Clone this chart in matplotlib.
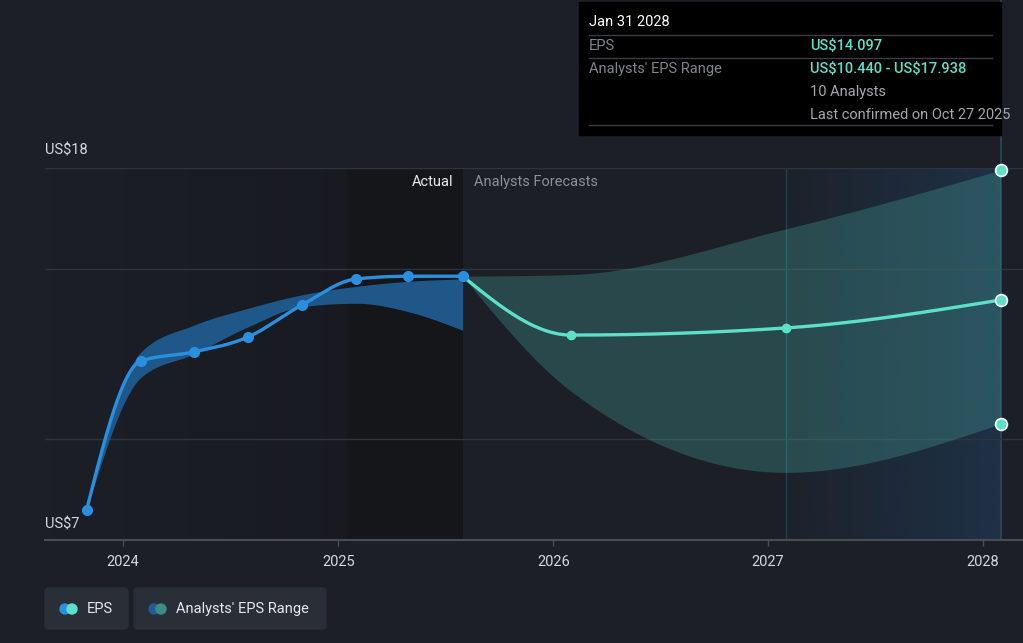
import numpy as np
import matplotlib
matplotlib.use("Agg")
import matplotlib.pyplot as plt
import matplotlib.dates as mdates
from matplotlib.patches import Rectangle, FancyBboxPatch, Circle
from matplotlib.transforms import Affine2D

plt.rcParams['font.family'] = ['Roboto', 'DejaVu Sans']

# EPS history (fiscal quarters) and analyst range
actual_dates = ['2023-10-31', '2024-01-31', '2024-04-30', '2024-07-31',
                '2024-10-31', '2025-01-31', '2025-04-30', '2025-07-31']
actual_eps = [7.88, 12.29, 12.56, 13.00, 13.95, 14.72, 14.80, 14.80]
actual_low = [7.88, 11.80, 12.50, 13.30, 13.90, 14.00, 13.75, 13.20]
actual_high = [7.88, 12.55, 13.35, 13.85, 14.25, 14.50, 14.65, 14.72]

# analyst forecasts (fiscal years ending Jan 31)
fc_dates = ['2025-07-31', '2026-01-31', '2027-01-31', '2028-01-31']
fc_eps = [14.80, 13.06, 13.27, 14.097]
fc_low = [14.80, 11.40, 9.00, 10.440]
fc_high = [14.80, 14.85, 16.20, 17.938]

year_ticks = ['2024', '2025', '2026', '2027', '2028']
y_min, y_max = 7, 18
grid_vals = [10, 15, 18]

BG = '#1c1f26'
BLUE = '#2b8fe0'
TEAL = '#5ce0c8'
W, H = 1023, 643


def monotone_curve(x, y, n=80):
    # monotone cubic (like d3 curveMonotoneX), only used to draw smooth lines
    x = np.asarray(x, float)
    y = np.asarray(y, float)
    h = np.diff(x)
    s = np.diff(y) / h
    t = np.zeros_like(y)
    for i in range(1, len(x) - 1):
        p = (s[i - 1] * h[i] + s[i] * h[i - 1]) / (h[i - 1] + h[i])
        t[i] = (np.sign(s[i - 1]) + np.sign(s[i])) * min(abs(s[i - 1]), abs(s[i]), 0.5 * abs(p))
    t[0] = (3 * s[0] - t[1]) / 2
    t[-1] = (3 * s[-1] - t[-2]) / 2
    xs, ys = [], []
    u = np.linspace(0, 1, n)
    for i in range(len(h)):
        h00 = 2 * u**3 - 3 * u**2 + 1
        h10 = u**3 - 2 * u**2 + u
        h01 = -2 * u**3 + 3 * u**2
        h11 = u**3 - u**2
        xs.append(x[i] + u * h[i])
        ys.append(h00 * y[i] + h10 * h[i] * t[i] + h01 * y[i + 1] + h11 * h[i] * t[i + 1])
    return np.concatenate(xs), np.concatenate(ys)


ax_dates = mdates.datestr2num(actual_dates)
fx_dates = mdates.datestr2num(fc_dates)
tick_pos = mdates.datestr2num([y + '-01-01' for y in year_ticks])
per_px = (tick_pos[-1] - tick_pos[0]) / (983 - 123)
x_left = tick_pos[0] - (123 - 45) * per_px
x_right = tick_pos[0] + (W - 123) * per_px

fig = plt.figure(figsize=(W / 100, H / 100), dpi=100, facecolor=BG)
ax = fig.add_axes([45 / W, (H - 540) / H, (W - 45) / W, (540 - 168) / H])
ax.set_facecolor(BG)
ax.set_xlim(x_left, x_right)
ax.set_ylim(y_min, y_max)

# shading of the actual region
hov_left = x_left + (347 - 45) * per_px
grad = np.zeros((2, 200, 4))
grad[..., 3] = np.linspace(0, 0.14, 200)
ax.imshow(grad, extent=[x_left, hov_left, y_min, y_max], aspect='auto', zorder=0)
ax.axvspan(hov_left, ax_dates[-1], color='#141619', zorder=0.1, lw=0)

# hover highlight of the last forecast year
hl = np.zeros((2, 200, 4))
hl[..., 0] = 32 / 255
hl[..., 1] = 62 / 255
hl[..., 2] = 92 / 255
hl[..., 3] = np.linspace(0.1, 0.6, 200)
ax.imshow(hl, extent=[fx_dates[2], fx_dates[3], y_min, y_max], aspect='auto', zorder=0.2)
ax.axvline(fx_dates[2], color='#26404f', lw=1, zorder=0.3)
ax.plot([fx_dates[3]] * 2, [y_min, y_max + 168 / ((540 - 168) / 11)], color='#2b4a5c',
        lw=1.2, clip_on=False, zorder=0.3)

for g in grid_vals:
    ax.axhline(g, color='#30343c', lw=1, zorder=0.5)

# range bands
bx, blo = monotone_curve(ax_dates, actual_low)
_, bhi = monotone_curve(ax_dates, actual_high)
ax.fill_between(bx, blo, bhi, color='#1f5d92', alpha=0.92, lw=0, zorder=1)

fx, flo = monotone_curve(fx_dates, fc_low)
_, fhi = monotone_curve(fx_dates, fc_high)
ax.fill_between(fx, flo, fhi, color='#4fb8b0', alpha=0.27, lw=0, zorder=1)

# EPS lines
lx, ly = monotone_curve(fx_dates, fc_eps)
ax.plot(lx, ly, color=TEAL, lw=2.4, zorder=3, solid_capstyle='round')
ax.plot(fx_dates[1:3], fc_eps[1:3], 'o', color=TEAL, ms=6, zorder=4)

lx, ly = monotone_curve(ax_dates, actual_eps)
ax.plot(lx, ly, color=BLUE, lw=2.4, zorder=3, solid_capstyle='round')
ax.plot(ax_dates, actual_eps, 'o', color=BLUE, ms=7, zorder=4)

ax.plot([fx_dates[3]] * 3, [fc_high[-1], fc_eps[-1], fc_low[-1]], 'o', color=TEAL,
        ms=8.5, mec='white', mew=1.2, zorder=5, clip_on=False)

for side in ['top', 'left', 'right']:
    ax.spines[side].set_visible(False)
ax.spines['bottom'].set_color('#474c56')
ax.spines['bottom'].set_linewidth(1.5)
ax.set_yticks([])
ax.set_xticks(tick_pos)
ax.set_xticklabels(year_ticks)
ax.tick_params(axis='x', colors='#474c56', length=4, width=1, pad=7,
               labelcolor='#d5d8dd', labelsize=10.5)

# pixel coordinates, y from the top
T = Affine2D().scale(1, -1).translate(0, H)

fig.text(45, 150, 'US\\$18', transform=T, color='#d5d8dd', fontsize=10.5, va='center')
fig.text(45, 524, 'US\\$7', transform=T, color='#d5d8dd', fontsize=10.5, va='center')
fig.text(453, 182, 'Actual', transform=T, color='#e6e8eb', fontsize=10.5, va='center', ha='right')
fig.text(474, 182, 'Analysts Forecasts', transform=T, color='#8a8f98', fontsize=10.5, va='center')

# tooltip
fig.patches.append(Rectangle((579, 2), 422, 133, transform=T, color='black', zorder=10))
for yy in [35, 58, 125]:
    fig.lines.append(plt.Line2D([589, 992], [yy, yy], transform=T, color='#3a3d44', lw=1, zorder=11))
tip = [
    (589, 22, 'Jan 31 2028', '#ffffff', 'normal'),
    (589, 46, 'EPS', '#80858d', 'normal'),
    (810, 46, 'US\\$14.097', TEAL, 'medium'),
    (589, 69, "Analysts' EPS Range", '#80858d', 'normal'),
    (810, 69, 'US\\$10.440 - US\\$17.938', TEAL, 'medium'),
    (810, 92, '10 Analysts', '#a3a7ae', 'normal'),
    (810, 115, 'Last confirmed on Oct 27 2025', '#a3a7ae', 'normal'),
]
for x, y, s, c, w in tip:
    fig.text(x, y, s, transform=T, color=c, fontsize=10.5, va='center', fontweight=w, zorder=12)

# legend
fig.patches.append(FancyBboxPatch((45, 588), 83, 41, boxstyle='round,pad=0,rounding_size=4',
                                  transform=T, color='#2a2e36'))
fig.patches.append(FancyBboxPatch((134, 588), 192, 41, boxstyle='round,pad=0,rounding_size=4',
                                  transform=T, color='#2a2e36'))
for cx, c in [(65, BLUE), (72, TEAL), (154, '#1f5d92'), (161, '#3e8c84')]:
    fig.patches.append(Circle((cx, 609), 5, transform=T, color=c))
fig.text(87, 609, 'EPS', transform=T, color='#e6e8eb', fontsize=10.5, va='center')
fig.text(176, 609, "Analysts' EPS Range", transform=T, color='#e6e8eb', fontsize=10.5, va='center')

fig.savefig('out.png', dpi=100, facecolor=BG)
